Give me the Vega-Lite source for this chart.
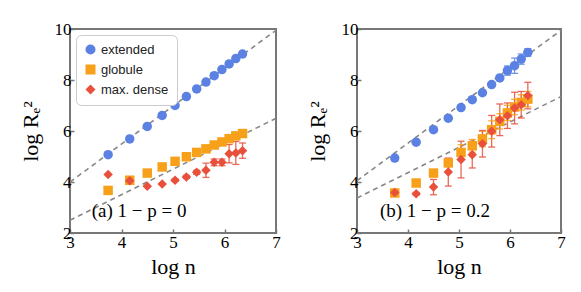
{
  "$schema": "https://vega.github.io/schema/vega-lite/v6.json",
  "padding": {"left": 18, "top": 19, "right": 8, "bottom": 5},
  "background": "white",
  "spacing": 23,
  "datasets": {
    "pts": [
      {"panel": "a", "series": "extended", "x": 3.74, "y": 5.07, "err": 0},
      {"panel": "a", "series": "extended", "x": 4.16, "y": 5.69, "err": 0},
      {"panel": "a", "series": "extended", "x": 4.5, "y": 6.18, "err": 0},
      {"panel": "a", "series": "extended", "x": 4.79, "y": 6.61, "err": 0},
      {"panel": "a", "series": "extended", "x": 5.04, "y": 7.0, "err": 0},
      {"panel": "a", "series": "extended", "x": 5.26, "y": 7.35, "err": 0},
      {"panel": "a", "series": "extended", "x": 5.46, "y": 7.65, "err": 0},
      {"panel": "a", "series": "extended", "x": 5.64, "y": 7.92, "err": 0},
      {"panel": "a", "series": "extended", "x": 5.8, "y": 8.17, "err": 0},
      {"panel": "a", "series": "extended", "x": 5.95, "y": 8.41, "err": 0},
      {"panel": "a", "series": "extended", "x": 6.09, "y": 8.63, "err": 0},
      {"panel": "a", "series": "extended", "x": 6.22, "y": 8.84, "err": 0},
      {"panel": "a", "series": "extended", "x": 6.35, "y": 9.02, "err": 0},
      {"panel": "a", "series": "globule", "x": 3.74, "y": 3.67, "err": 0},
      {"panel": "a", "series": "globule", "x": 4.16, "y": 4.07, "err": 0},
      {"panel": "a", "series": "globule", "x": 4.5, "y": 4.35, "err": 0},
      {"panel": "a", "series": "globule", "x": 4.79, "y": 4.59, "err": 0},
      {"panel": "a", "series": "globule", "x": 5.04, "y": 4.81, "err": 0},
      {"panel": "a", "series": "globule", "x": 5.26, "y": 4.99, "err": 0},
      {"panel": "a", "series": "globule", "x": 5.46, "y": 5.16, "err": 0},
      {"panel": "a", "series": "globule", "x": 5.64, "y": 5.3, "err": 0},
      {"panel": "a", "series": "globule", "x": 5.8, "y": 5.45, "err": 0},
      {"panel": "a", "series": "globule", "x": 5.95, "y": 5.57, "err": 0},
      {"panel": "a", "series": "globule", "x": 6.09, "y": 5.7, "err": 0},
      {"panel": "a", "series": "globule", "x": 6.22, "y": 5.81, "err": 0},
      {"panel": "a", "series": "globule", "x": 6.35, "y": 5.9, "err": 0},
      {"panel": "a", "series": "max. dense", "x": 3.74, "y": 4.29, "err": 0},
      {"panel": "a", "series": "max. dense", "x": 4.16, "y": 4.05, "err": 0},
      {"panel": "a", "series": "max. dense", "x": 4.5, "y": 3.83, "err": 0},
      {"panel": "a", "series": "max. dense", "x": 4.79, "y": 3.92, "err": 0},
      {"panel": "a", "series": "max. dense", "x": 5.04, "y": 4.07, "err": 0.05},
      {"panel": "a", "series": "max. dense", "x": 5.26, "y": 4.2, "err": 0.06},
      {"panel": "a", "series": "max. dense", "x": 5.46, "y": 4.38, "err": 0.08},
      {"panel": "a", "series": "max. dense", "x": 5.64, "y": 4.46, "err": 0.28},
      {"panel": "a", "series": "max. dense", "x": 5.8, "y": 4.77, "err": 0.13},
      {"panel": "a", "series": "max. dense", "x": 5.95, "y": 4.77, "err": 0.13},
      {"panel": "a", "series": "max. dense", "x": 6.09, "y": 5.11, "err": 0.36},
      {"panel": "a", "series": "max. dense", "x": 6.22, "y": 5.14, "err": 0.45},
      {"panel": "a", "series": "max. dense", "x": 6.35, "y": 5.23, "err": 0.3},
      {"panel": "b", "series": "extended", "x": 3.74, "y": 4.94, "err": 0},
      {"panel": "b", "series": "extended", "x": 4.16, "y": 5.56, "err": 0},
      {"panel": "b", "series": "extended", "x": 4.5, "y": 6.05, "err": 0},
      {"panel": "b", "series": "extended", "x": 4.79, "y": 6.5, "err": 0},
      {"panel": "b", "series": "extended", "x": 5.04, "y": 6.92, "err": 0},
      {"panel": "b", "series": "extended", "x": 5.26, "y": 7.23, "err": 0},
      {"panel": "b", "series": "extended", "x": 5.46, "y": 7.5, "err": 0},
      {"panel": "b", "series": "extended", "x": 5.64, "y": 7.82, "err": 0},
      {"panel": "b", "series": "extended", "x": 5.8, "y": 8.08, "err": 0.08},
      {"panel": "b", "series": "extended", "x": 5.95, "y": 8.37, "err": 0.18},
      {"panel": "b", "series": "extended", "x": 6.09, "y": 8.56, "err": 0.3},
      {"panel": "b", "series": "extended", "x": 6.22, "y": 8.82, "err": 0.2},
      {"panel": "b", "series": "extended", "x": 6.35, "y": 9.08, "err": 0.15},
      {"panel": "b", "series": "globule", "x": 3.74, "y": 3.57, "err": 0.05},
      {"panel": "b", "series": "globule", "x": 4.16, "y": 3.96, "err": 0.05},
      {"panel": "b", "series": "globule", "x": 4.5, "y": 4.35, "err": 0.1},
      {"panel": "b", "series": "globule", "x": 4.79, "y": 4.75, "err": 0.15},
      {"panel": "b", "series": "globule", "x": 5.04, "y": 5.16, "err": 0.3},
      {"panel": "b", "series": "globule", "x": 5.26, "y": 5.42, "err": 0.25},
      {"panel": "b", "series": "globule", "x": 5.46, "y": 5.69, "err": 0.3},
      {"panel": "b", "series": "globule", "x": 5.64, "y": 6.05, "err": 0.35},
      {"panel": "b", "series": "globule", "x": 5.8, "y": 6.38, "err": 0.3},
      {"panel": "b", "series": "globule", "x": 5.95, "y": 6.71, "err": 0.3},
      {"panel": "b", "series": "globule", "x": 6.09, "y": 6.94, "err": 0.3},
      {"panel": "b", "series": "globule", "x": 6.22, "y": 7.12, "err": 0.3},
      {"panel": "b", "series": "globule", "x": 6.35, "y": 7.25, "err": 0.3},
      {"panel": "b", "series": "max. dense", "x": 3.74, "y": 3.59, "err": 0.05},
      {"panel": "b", "series": "max. dense", "x": 4.16, "y": 3.54, "err": 0.05},
      {"panel": "b", "series": "max. dense", "x": 4.5, "y": 3.8, "err": 0.3},
      {"panel": "b", "series": "max. dense", "x": 4.79, "y": 4.39, "err": 0.55},
      {"panel": "b", "series": "max. dense", "x": 5.04, "y": 4.88, "err": 0.72},
      {"panel": "b", "series": "max. dense", "x": 5.26, "y": 5.07, "err": 0.52},
      {"panel": "b", "series": "max. dense", "x": 5.46, "y": 5.5, "err": 0.52},
      {"panel": "b", "series": "max. dense", "x": 5.64, "y": 5.99, "err": 0.62},
      {"panel": "b", "series": "max. dense", "x": 5.8, "y": 6.44, "err": 0.62},
      {"panel": "b", "series": "max. dense", "x": 5.95, "y": 6.6, "err": 0.5},
      {"panel": "b", "series": "max. dense", "x": 6.09, "y": 6.9, "err": 0.62},
      {"panel": "b", "series": "max. dense", "x": 6.22, "y": 7.03, "err": 0.52},
      {"panel": "b", "series": "max. dense", "x": 6.35, "y": 7.39, "err": 0.52}
    ],
    "fits": [
      {"panel": "a", "line": "upper", "x": 3, "y": 4.0},
      {"panel": "a", "line": "upper", "x": 7, "y": 9.95},
      {"panel": "a", "line": "lower", "x": 3, "y": 2.5},
      {"panel": "a", "line": "lower", "x": 7, "y": 6.5},
      {"panel": "b", "line": "upper", "x": 3, "y": 4.05},
      {"panel": "b", "line": "upper", "x": 7, "y": 9.95},
      {"panel": "b", "line": "lower", "x": 3, "y": 3.37},
      {"panel": "b", "line": "lower", "x": 7, "y": 7.35}
    ],
    "notes": [
      {"panel": "a", "label": "(a) 1 − p = 0"},
      {"panel": "b", "label": "(b) 1 − p = 0.2"}
    ]
  },
  "resolve": {"legend": {"color": "independent", "shape": "independent"}},
  "hconcat": [
    {
      "width": 206,
      "height": 204,
      "layer": [
        {
          "data": {"name": "fits"},
          "transform": [{"filter": "datum.panel == 'a'"}],
          "mark": {"type": "line", "strokeDash": [5, 4], "color": "#888", "strokeWidth": 1.6, "clip": true},
          "encoding": {
            "x": {"field": "x", "type": "quantitative", "scale": {"domain": [3, 7], "nice": false}},
            "y": {"field": "y", "type": "quantitative", "scale": {"domain": [2, 10], "nice": false}},
            "detail": {"field": "line"}
          }
        },
        {
          "data": {"name": "pts"},
          "transform": [{"filter": "datum.panel == 'a' && datum.err > 0"}, {"calculate": "datum.y - datum.err", "as": "lo"}, {"calculate": "datum.y + datum.err", "as": "hi"}],
          "layer": [
            {"mark": {"type": "rule", "strokeWidth": 1.3, "opacity": 0.85}, "encoding": {"y": {"field": "lo", "type": "quantitative"}, "y2": {"field": "hi"}}},
            {"mark": {"type": "tick", "orient": "horizontal", "size": 7, "thickness": 1.3, "opacity": 0.85}, "encoding": {"y": {"field": "lo", "type": "quantitative"}}},
            {"mark": {"type": "tick", "orient": "horizontal", "size": 7, "thickness": 1.3, "opacity": 0.85}, "encoding": {"y": {"field": "hi", "type": "quantitative"}}}
          ],
          "encoding": {
            "x": {"field": "x", "type": "quantitative"},
            "color": {"field": "series", "type": "nominal", "title": null, "scale": {"domain": ["extended", "globule", "max. dense"], "range": ["#5b82e3", "#f7a11a", "#e8503c"]}}
          }
        },
        {
          "data": {"name": "pts"},
          "transform": [{"filter": "datum.panel == 'a'"}],
          "mark": {"type": "point", "filled": true, "opacity": 1, "size": 90},
          "encoding": {
            "x": {"field": "x", "type": "quantitative", "title": "log n",
              "axis": {"values": [3, 3.5, 4, 4.5, 5, 5.5, 6, 6.5, 7], "labelExpr": "datum.value % 1 == 0 ? toString(datum.value) : ''"}},
            "y": {"field": "y", "type": "quantitative", "title": "log Rₑ²",
              "axis": {"values": [2, 3, 4, 5, 6, 7, 8, 9, 10], "labelExpr": "datum.value % 2 == 0 ? toString(datum.value) : ''"}},
            "color": {"field": "series", "type": "nominal", "title": null,
              "scale": {"domain": ["extended", "globule", "max. dense"], "range": ["#5b82e3", "#f7a11a", "#e8503c"]},
              "legend": {"orient": "top-left", "offset": 6}},
            "shape": {"field": "series", "type": "nominal", "title": null,
              "scale": {"domain": ["extended", "globule", "max. dense"], "range": ["circle", "square", "diamond"]},
              "legend": {"orient": "top-left", "offset": 6}}
          }
        },
        {
          "data": {"name": "notes"},
          "transform": [{"filter": "datum.panel == 'a'"}],
          "mark": {"type": "text", "align": "left", "baseline": "middle", "font": "Liberation Serif", "fontSize": 19},
          "encoding": {"x": {"datum": 3.42}, "y": {"datum": 2.85}, "text": {"field": "label"}}
        }
      ]
    },
    {
      "width": 204,
      "height": 204,
      "layer": [
        {
          "data": {"name": "fits"},
          "transform": [{"filter": "datum.panel == 'b'"}],
          "mark": {"type": "line", "strokeDash": [5, 4], "color": "#888", "strokeWidth": 1.6, "clip": true},
          "encoding": {
            "x": {"field": "x", "type": "quantitative", "scale": {"domain": [3, 7], "nice": false}},
            "y": {"field": "y", "type": "quantitative", "scale": {"domain": [2, 10], "nice": false}},
            "detail": {"field": "line"}
          }
        },
        {
          "data": {"name": "pts"},
          "transform": [{"filter": "datum.panel == 'b' && datum.err > 0"}, {"calculate": "datum.y - datum.err", "as": "lo"}, {"calculate": "datum.y + datum.err", "as": "hi"}],
          "layer": [
            {"mark": {"type": "rule", "strokeWidth": 1.3, "opacity": 0.85}, "encoding": {"y": {"field": "lo", "type": "quantitative"}, "y2": {"field": "hi"}}},
            {"mark": {"type": "tick", "orient": "horizontal", "size": 7, "thickness": 1.3, "opacity": 0.85}, "encoding": {"y": {"field": "lo", "type": "quantitative"}}},
            {"mark": {"type": "tick", "orient": "horizontal", "size": 7, "thickness": 1.3, "opacity": 0.85}, "encoding": {"y": {"field": "hi", "type": "quantitative"}}}
          ],
          "encoding": {
            "x": {"field": "x", "type": "quantitative"},
            "color": {"field": "series", "type": "nominal", "scale": {"domain": ["extended", "globule", "max. dense"], "range": ["#5b82e3", "#f7a11a", "#e8503c"]}, "legend": null}
          }
        },
        {
          "data": {"name": "pts"},
          "transform": [{"filter": "datum.panel == 'b'"}],
          "mark": {"type": "point", "filled": true, "opacity": 1, "size": 90},
          "encoding": {
            "x": {"field": "x", "type": "quantitative", "title": "log n",
              "axis": {"values": [3, 3.5, 4, 4.5, 5, 5.5, 6, 6.5, 7], "labelExpr": "datum.value % 1 == 0 ? toString(datum.value) : ''"}},
            "y": {"field": "y", "type": "quantitative", "title": "log Rₑ²",
              "axis": {"values": [2, 3, 4, 5, 6, 7, 8, 9, 10], "labelExpr": "datum.value % 2 == 0 ? toString(datum.value) : ''"}},
            "color": {"field": "series", "type": "nominal",
              "scale": {"domain": ["extended", "globule", "max. dense"], "range": ["#5b82e3", "#f7a11a", "#e8503c"]}, "legend": null},
            "shape": {"field": "series", "type": "nominal",
              "scale": {"domain": ["extended", "globule", "max. dense"], "range": ["circle", "square", "diamond"]}, "legend": null}
          }
        },
        {
          "data": {"name": "notes"},
          "transform": [{"filter": "datum.panel == 'b'"}],
          "mark": {"type": "text", "align": "left", "baseline": "middle", "font": "Liberation Serif", "fontSize": 19},
          "encoding": {"x": {"datum": 3.45}, "y": {"datum": 2.85}, "text": {"field": "label"}}
        }
      ]
    }
  ],
  "config": {
    "view": {"stroke": "#777", "strokeWidth": 2},
    "axis": {
      "grid": false,
      "domain": false,
      "tickColor": "#777",
      "tickSize": -4,
      "tickWidth": 1.5,
      "labelFont": "Liberation Serif",
      "labelFontSize": 17,
      "labelColor": "#000",
      "labelPadding": 3,
      "titleFont": "Liberation Serif",
      "titleFontSize": 22,
      "titleFontWeight": "normal",
      "titleColor": "#000",
      "labelFlush": false
    },
    "axisY": {"titlePadding": 12},
    "axisX": {"titlePadding": 6, "labelPadding": 5},
    "legend": {
      "labelFont": "Liberation Sans",
      "labelFontSize": 13,
      "labelColor": "#222",
      "strokeColor": "#ccc",
      "fillColor": "white",
      "cornerRadius": 5,
      "padding": 8,
      "rowPadding": 6,
      "symbolSize": 100,
      "symbolOpacity": 1,
      "symbolStrokeWidth": 0
    }
  }
}
